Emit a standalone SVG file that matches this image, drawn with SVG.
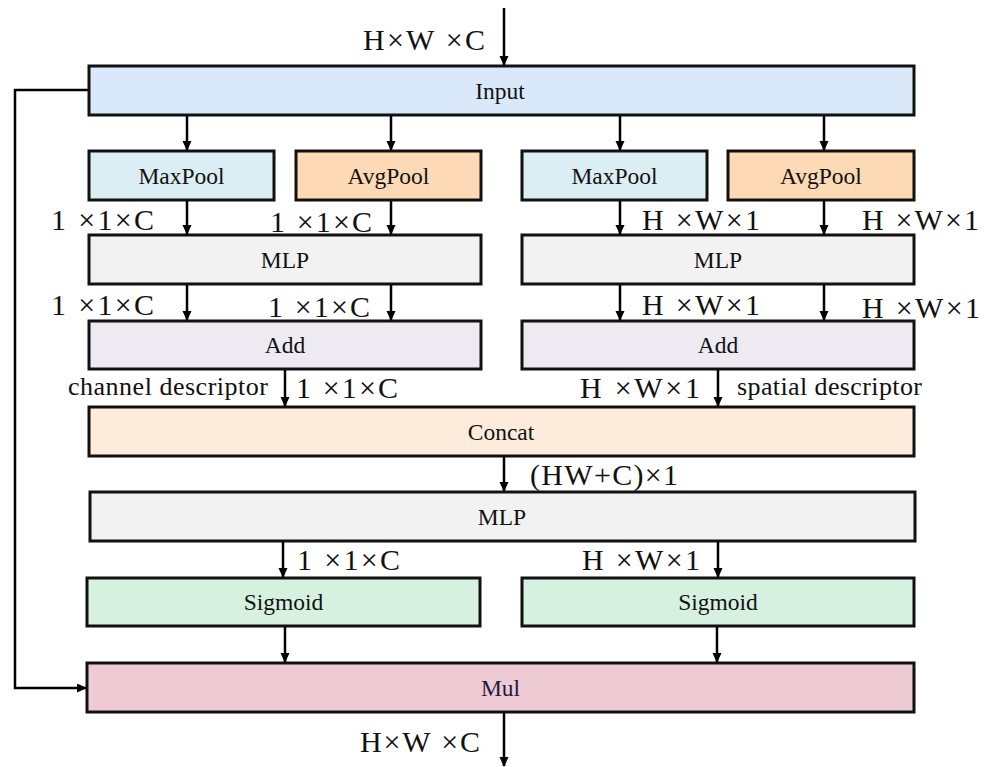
<svg xmlns="http://www.w3.org/2000/svg" width="987" height="767" viewBox="0 0 987 767">
<defs>
<marker id="ah" markerUnits="userSpaceOnUse" markerWidth="10" markerHeight="10" refX="9" refY="4.5" orient="auto">
<path d="M0,0 L10,4.5 L0,9 z" fill="#000"/>
</marker>
<style>
.box{stroke:#111;stroke-width:3}
text{font-family:'Liberation Serif','DejaVu Serif','Times New Roman',serif;fill:#111}
.bl{font-size:23.5px;text-anchor:middle}
.dim{font-size:30px}
.desc{font-size:26px}
.c{fill:none;stroke:#000;stroke-width:2.5;marker-end:url(#ah)}
</style>
</defs>
<rect width="987" height="767" fill="#fff"/>

<g id="input"><rect class="box" x="89" y="66" width="825" height="49" fill="#dae9fa"/><text class="bl" x="500" y="99">Input</text></g>
<g id="maxpool-l"><rect class="box" x="89" y="151" width="185" height="49" fill="#dbeef3"/><text class="bl" x="181.5" y="184">MaxPool</text></g>
<g id="avgpool-l"><rect class="box" x="296" y="151" width="185" height="49" fill="#fdd9b5"/><text class="bl" x="388.5" y="184">AvgPool</text></g>
<g id="maxpool-r"><rect class="box" x="522" y="151" width="185" height="49" fill="#dbeef3"/><text class="bl" x="614.5" y="184">MaxPool</text></g>
<g id="avgpool-r"><rect class="box" x="728" y="151" width="186" height="49" fill="#fdd9b5"/><text class="bl" x="821" y="184">AvgPool</text></g>
<g id="mlp-l"><rect class="box" x="89" y="235" width="392" height="49" fill="#f2f2f2"/><text class="bl" x="285" y="268">MLP</text></g>
<g id="mlp-r"><rect class="box" x="522" y="235" width="392" height="49" fill="#f2f2f2"/><text class="bl" x="718" y="268">MLP</text></g>
<g id="add-l"><rect class="box" x="89" y="321" width="392" height="48" fill="#edeaf2"/><text class="bl" x="285" y="353">Add</text></g>
<g id="add-r"><rect class="box" x="522" y="321" width="392" height="48" fill="#edeaf2"/><text class="bl" x="718" y="353">Add</text></g>
<g id="concat"><rect class="box" x="89" y="407" width="825" height="49" fill="#fdebdb"/><text class="bl" x="501" y="440">Concat</text></g>
<g id="mlp-c"><rect class="box" x="90" y="492" width="825" height="49" fill="#f2f2f2"/><text class="bl" x="502" y="525">MLP</text></g>
<g id="sigmoid-l"><rect class="box" x="87" y="578" width="393" height="48" fill="#d7f1e1"/><text class="bl" x="283.5" y="610">Sigmoid</text></g>
<g id="sigmoid-r"><rect class="box" x="522" y="578" width="392" height="48" fill="#d7f1e1"/><text class="bl" x="718" y="610">Sigmoid</text></g>
<g id="mul"><rect class="box" x="87" y="663" width="827" height="49" fill="#eecad4"/><text class="bl" x="500.5" y="696" style="fill:#1c1c3c">Mul</text></g>

<g id="connectors">
<line class="c" x1="504" y1="8" x2="504" y2="65"/>
<line class="c" x1="187" y1="116" x2="187" y2="150"/>
<line class="c" x1="391" y1="116" x2="391" y2="150"/>
<line class="c" x1="620" y1="116" x2="620" y2="150"/>
<line class="c" x1="824" y1="116" x2="824" y2="150"/>
<line class="c" x1="187" y1="201" x2="187" y2="234"/>
<line class="c" x1="391" y1="201" x2="391" y2="234"/>
<line class="c" x1="620" y1="201" x2="620" y2="234"/>
<line class="c" x1="824" y1="201" x2="824" y2="234"/>
<line class="c" x1="187" y1="285" x2="187" y2="320"/>
<line class="c" x1="391" y1="285" x2="391" y2="320"/>
<line class="c" x1="620" y1="285" x2="620" y2="320"/>
<line class="c" x1="824" y1="285" x2="824" y2="320"/>
<line class="c" x1="285" y1="370" x2="285" y2="406"/>
<line class="c" x1="718" y1="370" x2="718" y2="406"/>
<line class="c" x1="504" y1="457" x2="504" y2="491"/>
<line class="c" x1="283" y1="542" x2="283" y2="577"/>
<line class="c" x1="718" y1="542" x2="718" y2="577"/>
<line class="c" x1="285" y1="627" x2="285" y2="662"/>
<line class="c" x1="717" y1="627" x2="717" y2="662"/>
<line class="c" x1="504" y1="713" x2="504" y2="766"/>
<polyline class="c" points="88,90 15,90 15,688 86,688"/>
</g>

<g id="labels">
<text class="dim" x="363" y="50" textLength="122">H×W ×C</text>
<text class="dim" x="51" y="230" textLength="103">1 ×1×C</text>
<text class="dim" x="270" y="232" textLength="102">1 ×1×C</text>
<text class="dim" x="642" y="230" textLength="118">H ×W×1</text>
<text class="dim" x="862" y="230" textLength="117">H ×W×1</text>
<text class="dim" x="51" y="315" textLength="103">1 ×1×C</text>
<text class="dim" x="268" y="317" textLength="102">1 ×1×C</text>
<text class="dim" x="642" y="315" textLength="118">H ×W×1</text>
<text class="dim" x="862" y="318" textLength="118">H ×W×1</text>
<text class="desc" x="68" y="395" textLength="200">channel descriptor</text>
<text class="dim" x="296" y="398" textLength="102">1 ×1×C</text>
<text class="dim" x="580" y="398" textLength="120">H ×W×1</text>
<text class="desc" x="737" y="395" textLength="185">spatial descriptor</text>
<text class="dim" x="530" y="485" textLength="148">(HW+C)×1</text>
<text class="dim" x="297" y="570" textLength="103">1 ×1×C</text>
<text class="dim" x="582" y="570" textLength="118">H ×W×1</text>
<text class="dim" x="360" y="752" textLength="120">H×W ×C</text>
</g>
</svg>
